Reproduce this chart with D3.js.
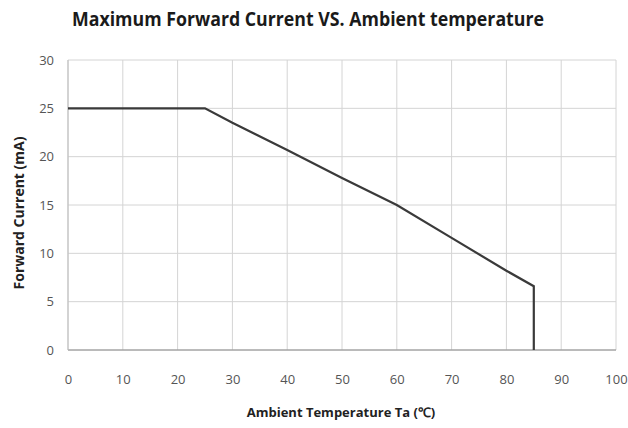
<!DOCTYPE html>
<html><head><meta charset="utf-8">
<script src="https://cdn.jsdelivr.net/npm/d3@7"></script>
<style>body{margin:0;background:#fff}svg{display:block}</style>
</head><body>
<svg id="c" width="628" height="428"></svg>
<script>
const temps = [0, 25, 30, 40, 50, 60, 70, 80, 85, 85];
const currents = [25, 25, 23.5, 20.7, 17.8, 15.0, 11.6, 8.2, 6.6, 0];
const xTicks = [0,10,20,30,40,50,60,70,80,90,100];
const yTicks = [0,5,10,15,20,25,30];
const title = "Maximum Forward Current VS. Ambient temperature";
const xTitle = "Ambient Temperature Ta (℃)";
const yTitle = "Forward Current (mA)";

const svg = d3.select("#c");
const m = {l:68, r:12, t:60, b:78};
const W = 628, H = 428;
const x = d3.scaleLinear().domain([0,100]).range([m.l, W-m.r]);
const y = d3.scaleLinear().domain([0,30]).range([H-m.b, m.t]);

// grid
svg.append("g").selectAll("line.v").data(xTicks).join("line")
  .attr("x1",d=>x(d)).attr("x2",d=>x(d)).attr("y1",y(0)).attr("y2",y(30))
  .attr("stroke","#d4d4d4").attr("stroke-width",1);
svg.append("g").selectAll("line.h").data(yTicks).join("line")
  .attr("x1",x(0)).attr("x2",x(100)).attr("y1",d=>y(d)).attr("y2",d=>y(d))
  .attr("stroke","#d4d4d4").attr("stroke-width",1);
// axis line bottom
svg.append("line").attr("x1",x(0)).attr("x2",x(100)).attr("y1",y(0)).attr("y2",y(0))
  .attr("stroke","#8c8c8c").attr("stroke-width",1.2);
svg.append("line").attr("x1",x(0)).attr("x2",x(0)).attr("y1",y(0)).attr("y2",y(30))
  .attr("stroke","#bdbdbd").attr("stroke-width",1);

const font = "'Liberation Sans Narrow','Open Sans',sans-serif";
// x axis
const xa = svg.append("g").attr("transform",`translate(0,${y(0)})`)
  .call(d3.axisBottom(x).tickValues(xTicks).tickSize(0).tickPadding(25));
xa.select(".domain").remove();
xa.selectAll("text").attr("font-family",font).attr("font-size",13).attr("fill","#555");
// y axis
const ya = svg.append("g").attr("transform",`translate(${x(0)},0)`)
  .call(d3.axisLeft(y).tickValues(yTicks).tickSize(0).tickPadding(14));
ya.select(".domain").remove();
ya.selectAll("text").attr("font-family",font).attr("font-size",13).attr("fill","#555");

// line
const pts = temps.map((t,i)=>[t,currents[i]]);
svg.append("path").datum(pts)
  .attr("d", d3.line().x(d=>x(d[0])).y(d=>y(d[1])))
  .attr("fill","none").attr("stroke","#3a3a3a").attr("stroke-width",2.2)
  .attr("stroke-linejoin","miter");

// titles
svg.append("text").attr("x",308).attr("y",26).attr("text-anchor","middle")
  .attr("font-family",font).attr("font-weight","bold").attr("font-size",19)
  .attr("fill","#1a1a1a").attr("textLength",472).attr("lengthAdjust","spacingAndGlyphs").text(title);
svg.append("text").attr("x",341).attr("y",417).attr("text-anchor","middle")
  .attr("font-family",font).attr("font-weight","bold").attr("font-size",13)
  .attr("fill","#222").text(xTitle);
svg.append("text").attr("transform",`translate(24,${(y(0)+y(30))/2+8}) rotate(-90)`)
  .attr("text-anchor","middle").attr("font-family","'Open Sans',sans-serif").attr("font-weight","bold")
  .attr("font-size",14).attr("fill","#222").text(yTitle);
</script>
</body></html>
